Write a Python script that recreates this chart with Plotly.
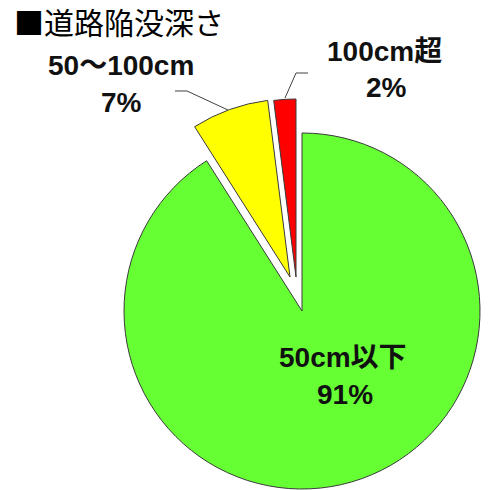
import plotly.graph_objects as go

# Road subsidence depth breakdown
categories = ["50cm以下", "50～100cm", "100cm超"]
shares = [91, 7, 2]
colors = ["#66FF33", "#FFFF00", "#FF0000"]
title_text = "■道路陥没深さ"

W, H = 500, 490
R = 178  # pie radius in px
# pixel centre of each slice's pie (the small slices are exploded outwards)
centers = [(302, 311), (290, 277), (296, 277)]


def px(x, y):
    return x / W, 1 - y / H


fig = go.Figure()
for i, (cx, cy) in enumerate(centers):
    fill = ["rgba(0,0,0,0)"] * len(shares)
    fill[i] = colors[i]
    lw = [0] * len(shares)
    lw[i] = 1
    fig.add_trace(go.Pie(
        values=shares,
        labels=categories,
        sort=False,
        direction="clockwise",
        rotation=0,
        textinfo="none",
        hoverinfo="skip",
        showlegend=False,
        marker=dict(colors=fill, line=dict(color="#3a3a3a", width=lw)),
        domain=dict(x=[(cx - R) / W, (cx + R) / W],
                    y=[1 - (cy + R) / H, 1 - (cy - R) / H]),
    ))

label_font = dict(family="Liberation Sans, Noto Sans CJK JP", size=28,
                  color="#111111", weight="bold")

# label positions (px) for category line and percentage line
label_pos = [((343, 357), (345, 394)),
             ((121, 65), (121, 103)),
             ((384, 52), (386, 87))]

annotations = []
for (p1, p2), cat, val in zip(label_pos, categories, shares):
    for (x, y), txt in ((p1, cat), (p2, f"{val}%")):
        ax, ay = px(x, y)
        annotations.append(dict(x=ax, y=ay, xref="paper", yref="paper",
                                text=txt, showarrow=False, font=label_font,
                                xanchor="center", yanchor="middle"))

tx, ty = px(12, 21)
annotations.append(dict(x=tx, y=ty, xref="paper", yref="paper", text=title_text,
                        showarrow=False, xanchor="left", yanchor="middle",
                        font=dict(family="Noto Sans CJK JP", size=30, color="#000000")))

# leader lines for the outside labels
leaders = [[(175, 91), (187, 91), (228, 110)],
           [(308, 73), (296, 73), (285, 98)]]
shapes = []
for pts in leaders:
    path = "M " + " L ".join(f"{px(x, y)[0]:.4f},{px(x, y)[1]:.4f}" for x, y in pts)
    shapes.append(dict(type="path", path=path, xref="paper", yref="paper",
                       line=dict(color="#404040", width=1)))

fig.update_layout(width=W, height=H, margin=dict(l=0, r=0, t=0, b=0),
                  paper_bgcolor="white", plot_bgcolor="white",
                  annotations=annotations, shapes=shapes)

fig.write_html("out.html")
